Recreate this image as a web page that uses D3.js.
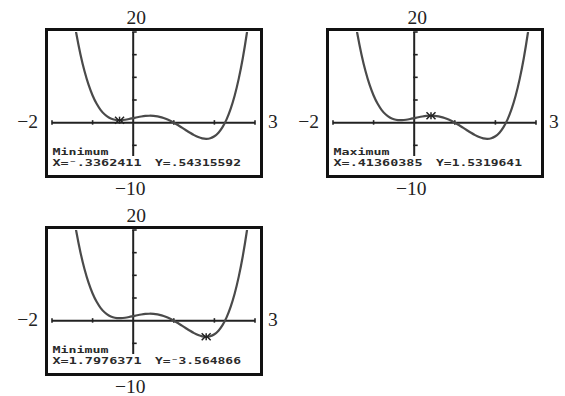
<!DOCTYPE html>
<html>
<head>
<meta charset="utf-8">
<script src="https://cdn.jsdelivr.net/npm/d3@7"></script>
<style>
  html, body { margin: 0; padding: 0; background: #fff; }
  svg { display: block; }
</style>
</head>
<body>
<svg id="chart" width="565" height="396"></svg>
<script>
// ---- data ----
const xWindow = [-2, 3];
const yWindow = [-10, 20];
const xTicks = [-2, -1, 1, 2, 3];
const yTicks = [-5, 5, 10, 15, 20];
const windowLabelTop = "20";
const windowLabelBottom = "\u221210";
const windowLabelLeft = "\u22122";
const windowLabelRight = "3";

// sampled points of the plotted curve
const curveX = [-1.5,-1.4,-1.3,-1.2,-1.1,-1.0,-0.9,-0.8,-0.7,-0.6,-0.5,-0.4,-0.3,-0.2,-0.1,0.0,
  0.1,0.2,0.3,0.4,0.5,0.6,0.7,0.8,0.9,1.0,1.1,1.2,1.3,1.4,1.5,1.6,1.7,1.8,1.9,2.0,
  2.1,2.2,2.3,2.4,2.5,2.6,2.7,2.8,2.9];
const curveY = [25.0,19.603,15.097,11.387,8.383,6.0,4.157,2.779,1.795,1.139,0.75,0.571,0.551,0.643,0.805,1.0,
  1.195,1.363,1.481,1.531,1.5,1.379,1.165,0.859,0.467,0.0,-0.527,-1.093,-1.673,-2.237,-2.75,-3.173,-3.461,-3.565,-3.431,-3.0,
  -2.209,-0.989,0.733,3.035,6.0,9.715,14.273,19.771,26.31];

const panelTitles = ["Minimum", "Maximum", "Minimum"];
const panelXText = ["X=\u207B.3362411", "X=.41360385", "X=1.7976371"];
const panelYText = ["Y=.54315592", "Y=1.5319641", "Y=\u207B3.564866"];
const cursorX = [-0.3362411, 0.41360385, 1.7976371];
const cursorY = [0.54315592, 1.5319641, -3.564866];

// ---- layout ----
const panelOrigins = [[45, 28], [326, 28], [45, 226]];
const frameW = 218, frameH = 150;
const svg = d3.select("#chart");
const ink = "#222";
const points = curveX.map((x, i) => [x, curveY[i]]);

panelOrigins.forEach((o, p) => {
  const g = svg.append("g").attr("transform", `translate(${o[0]},${o[1]})`);
  const x = d3.scaleLinear().domain(xWindow).range([7, 210]);
  const y = d3.scaleLinear().domain(yWindow).range([140, 4]);

  const clipId = "clip" + p;
  g.append("clipPath").attr("id", clipId)
    .append("rect").attr("x", 7).attr("y", 4).attr("width", 203).attr("height", 136);

  // frame
  g.append("rect").attr("x", 1.5).attr("y", 1.5)
    .attr("width", frameW - 3).attr("height", frameH - 3)
    .attr("fill", "none").attr("stroke", "#111").attr("stroke-width", 3);

  // window labels
  const serif = "'Liberation Serif', 'Times New Roman', serif";
  g.append("text").attr("x", x(0) + 3).attr("y", -4)
    .attr("text-anchor", "middle").attr("font-family", serif).attr("font-size", 19.5)
    .attr("fill", ink).text(windowLabelTop);
  g.append("text").attr("x", x(0) - 3).attr("y", frameH + 17)
    .attr("text-anchor", "middle").attr("font-family", serif).attr("font-size", 19.5)
    .attr("fill", ink).text(windowLabelBottom);
  g.append("text").attr("x", -7).attr("y", y(0) + 5)
    .attr("text-anchor", "end").attr("font-family", serif).attr("font-size", 19.5)
    .attr("fill", ink).text(windowLabelLeft);
  g.append("text").attr("x", frameW + 5).attr("y", y(0) + 5)
    .attr("text-anchor", "start").attr("font-family", serif).attr("font-size", 19.5)
    .attr("fill", ink).text(windowLabelRight);

  // axes
  g.append("line").attr("x1", x(xWindow[0])).attr("x2", x(xWindow[1]))
    .attr("y1", y(0)).attr("y2", y(0)).attr("stroke", ink).attr("stroke-width", 2);
  g.append("line").attr("x1", x(0)).attr("x2", x(0))
    .attr("y1", y(yWindow[1])).attr("y2", 128).attr("stroke", ink).attr("stroke-width", 2);
  g.selectAll(".xt").data(xTicks).enter().append("line")
    .attr("x1", d => x(d)).attr("x2", d => x(d))
    .attr("y1", y(0) - 2.5).attr("y2", y(0) + 2)
    .attr("stroke", ink).attr("stroke-width", 1.6);
  g.selectAll(".yt").data(yTicks).enter().append("line")
    .attr("x1", x(0) - 1).attr("x2", x(0) + 3.5)
    .attr("y1", d => y(d)).attr("y2", d => y(d))
    .attr("stroke", ink).attr("stroke-width", 1.6);

  // curve
  const line = d3.line().x(d => x(d[0])).y(d => y(d[1])).curve(d3.curveCatmullRom);
  g.append("path").datum(points).attr("d", line)
    .attr("clip-path", `url(#${clipId})`)
    .attr("fill", "none").attr("stroke", "#4a4a4a").attr("stroke-width", 2.2);

  // trace cursor
  const cx = x(cursorX[p]), cy = y(cursorY[p]);
  const cur = g.append("g").attr("stroke", ink).attr("stroke-width", 1.5).attr("fill", "none");
  cur.append("path").attr("d", `M${cx-4.5},${cy-3.5}L${cx-1},${cy}L${cx-4.5},${cy+3.5}`);
  cur.append("path").attr("d", `M${cx+4.5},${cy-3.5}L${cx+1},${cy}L${cx+4.5},${cy+3.5}`);
  cur.append("line").attr("x1", cx).attr("x2", cx).attr("y1", cy - 3.5).attr("y2", cy + 3.5);

  // calculator text
  const mono = "'DejaVu Sans Mono', monospace";
  const fs = 9.4;
  g.append("text").attr("x", 7.5).attr("y", 127)
    .attr("font-family", mono).attr("font-weight", "bold").attr("font-size", fs)
    .attr("textLength", 56).attr("lengthAdjust", "spacingAndGlyphs")
    .attr("fill", "#2a2a2a").text(panelTitles[p]);
  g.append("text").attr("x", 7.5).attr("y", 138)
    .attr("font-family", mono).attr("font-weight", "bold").attr("font-size", fs)
    .attr("textLength", 89).attr("lengthAdjust", "spacingAndGlyphs")
    .attr("fill", "#2a2a2a").text(panelXText[p]);
  g.append("text").attr("x", 110).attr("y", 138)
    .attr("font-family", mono).attr("font-weight", "bold").attr("font-size", fs)
    .attr("textLength", 86).attr("lengthAdjust", "spacingAndGlyphs")
    .attr("fill", "#2a2a2a").text(panelYText[p]);
});
</script>
</body>
</html>
